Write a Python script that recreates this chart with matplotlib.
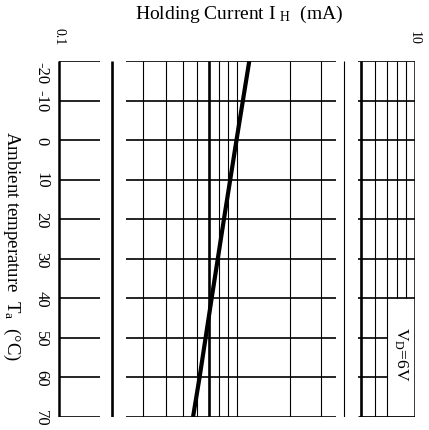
#!/usr/bin/env python3
import matplotlib
matplotlib.use('Agg')
import matplotlib.pyplot as plt
import matplotlib.transforms as mtransforms
from matplotlib.ticker import NullLocator

plt.rcParams['font.family'] = ['Liberation Serif', 'DejaVu Serif']
plt.rcParams['mathtext.fontset'] = 'custom'
plt.rcParams['mathtext.rm'] = 'Liberation Serif'
plt.rcParams['mathtext.it'] = 'Liberation Serif:italic'
plt.rcParams['axes.unicode_minus'] = False

# holding current curve (V_D = 6V)
temps = [-20, 0, 20, 40, 60, 70]
holding_ma = [1.18, 1.0, 0.85, 0.725, 0.62, 0.57]

temp_ticks = [-20, -10, 0, 10, 20, 30, 40, 50, 60, 70]
temp_labels = ['-20', '-10', '0', '10', '20', '30', '40', '50', '60', '70']
current_ticks = [0.1, 10]
current_labels = ['0.1', '10']

# vertical grid of the log paper
thin_verticals = [0.3, 0.4, 0.5, 0.6, 0.8, 0.9, 1, 2, 3, 4, 6, 7]
thick_verticals = [0.2, 0.7, 5]
short_verticals = [8, 9]          # stop at the V_D box
# the scan has the horizontal rules broken into three pieces
h_segments = [(0.1, 0.172), (0.24, 3.6), (4.8, 10)]

fig = plt.figure(figsize=(4.29, 4.31), dpi=100)
ax = fig.add_axes([58.5 / 429, 1 - 418 / 431, 356 / 429, 356 / 431])
ax.set_xscale('log')
ax.set_xlim(0.1, 10)
ax.set_ylim(70, -20)
ax.set_frame_on(False)

ymin, ymax = temp_ticks[0], temp_ticks[-1]
box_top = 40

# horizontal rules
for t in temp_ticks:
	for x0, x1 in h_segments:
		if x0 >= 4.8 and t > box_top and t < ymax:
			x1 = 7
		lw = 2.0 if (t == ymax and x0 >= 4.8) else 1.2
		ax.hlines(t, x0, x1, color='black', lw=lw)

# vertical rules
ax.vlines(thin_verticals, ymin, ymax, color='black', lw=0.8)
ax.vlines(thick_verticals, ymin, ymax, color='black', lw=1.9)
ax.vlines(short_verticals, ymin, box_top, color='black', lw=0.8)
ax.vlines([0.1, 10], ymin, ymax, color='black', lw=1.8)

# the curve
ax.plot(holding_ma, temps, color='black', lw=3.0, solid_capstyle='butt')

ax.text(8.35, 54, r'V$_\mathrm{D}$=6V', rotation=-90, ha='center', va='center',
	fontsize=12.5)

ax.xaxis.tick_top()
ax.set_xticks(current_ticks)
ax.set_xticklabels(current_labels, fontsize=10, rotation=-90)
ax.xaxis.set_minor_locator(NullLocator())
ax.set_yticks(temp_ticks)
ax.set_yticklabels(temp_labels, fontsize=12, rotation=-90, va='center', ha='center')
ax.tick_params(axis='x', length=0, pad=12)
ax.tick_params(axis='y', length=0, pad=12.5)

# the scan prints the -20 label a bit lower than its rule
first = ax.get_yticklabels()[0]
first.set_transform(first.get_transform() +
	mtransforms.ScaledTranslation(0, -8 / 72, fig.dpi_scale_trans))

fig.text(239 / 429, 1 - 14 / 431, r'Holding Current I $_{\mathrm{H}}$  (mA)',
	ha='center', va='center', fontsize=14)
fig.text(12 / 429, 1 - 246 / 431, r'Ambient temperature  T$_\mathrm{a}$  ($\degree$C)',
	ha='center', va='center', rotation=-90, fontsize=13.5)

fig.savefig('out.png', dpi=100)
plt.close(fig)
